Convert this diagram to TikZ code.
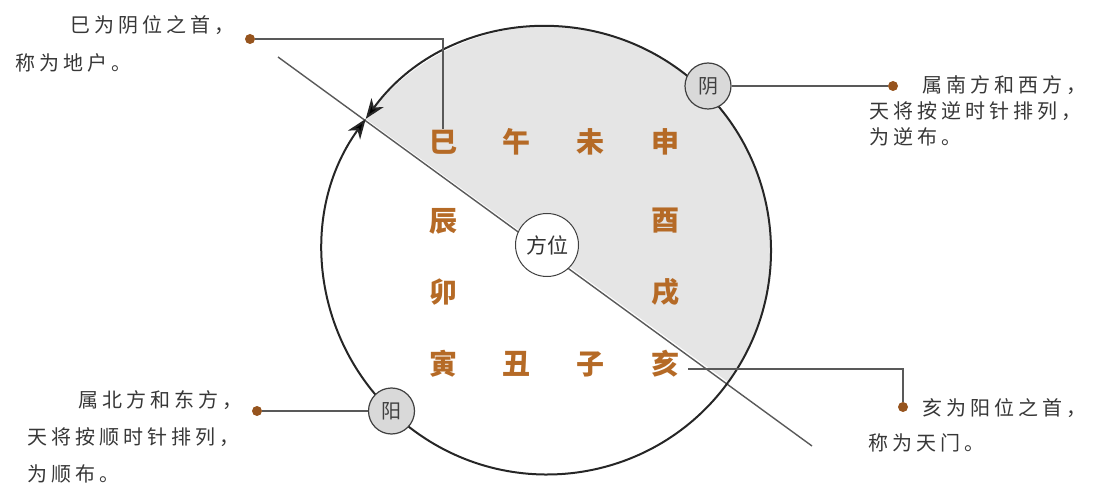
\documentclass[tikz,border=0pt]{standalone}
\usepackage{fontspec}
\usepackage{xcolor}
\usepackage{tikz}
\usetikzlibrary{arrows.meta,positioning,calc}
\newfontfamily\cjk{Noto Sans CJK SC}
\newfontfamily\cjknote[LetterSpace=20]{Noto Sans CJK SC}
\definecolor{branchbrown}{RGB}{181,106,38}
\definecolor{beadbrown}{RGB}{150,84,30}
\definecolor{notegray}{RGB}{55,55,55}
\tikzset{branch/.style={font=\cjk\bfseries\fontsize{28}{28}\selectfont,text=branchbrown,inner sep=1pt}}
\tikzset{yinyang/.style={circle,draw=black!75,fill=gray!30,line width=1.2pt,minimum size=46pt,inner sep=0pt,font=\cjk\fontsize{20}{20}\selectfont,text=black!75}}
\tikzset{bead/.style={circle,fill=beadbrown,inner sep=0pt,minimum size=10pt}}
\tikzset{link/.style={draw=black!65,line width=1.4pt}}
\tikzset{rim/.style={line width=2pt,black!85,-{Stealth[length=20pt,width=15pt,inset=6pt,fill=black]}}}
\tikzset{note/.style={align=left,inner sep=0pt,anchor=north west,text=notegray,font=\cjknote\fontsize{20}{#1}\selectfont}}

\begin{document}
\begin{tikzpicture}[x=1pt, y=1pt]
    \useasboundingbox (0,0) rectangle (1093,496);
    \coordinate (O) at (547,245.5);
    \coordinate (NW) at (278,439);
    \coordinate (SE) at (812,50);

    % shaded half of the circle
    \fill[gray!20] ($(O)+(-36:224)$) arc[start angle=-36, end angle=144, radius=224] -- cycle;
    \draw[line width=1.4pt,black!65] (NW) -- (SE);

    % the circle, both halves running to the door
    \draw[rim] ($(O)+(-36:224)$) arc[start angle=-36, end angle=144, radius=224];
    \draw[rim] ($(O)+(-36:224)$) arc[start angle=-36, end angle=-216, radius=224];

    \node[branch] (si) at (443,354) {巳};
    \node[branch] (wu) at (516,354) {午};
    \node[branch] (wei) at (590,354) {未};
    \node[branch] (shen) at (665,354) {申};
    \node[branch] (chen) at (443,275) {辰};
    \node[branch] (you) at (665,275) {酉};
    \node[branch] (mao) at (443,204) {卯};
    \node[branch] (xu) at (665,204) {戌};
    \node[branch] (yin3) at (443,132) {寅};
    \node[branch] (chou) at (516,132) {丑};
    \node[branch] (zi) at (590,132) {子};
    \node[branch] (hai) at (665,132) {亥};

    \node[circle,draw=black!75,fill=white,line width=1pt,minimum size=63pt,inner sep=0pt,font=\cjk\fontsize{21}{21}\selectfont,text=black!80] (fangwei) at (547,251) {方位};
    \node[yinyang] (yin) at (708,410) {阴};
    \node[yinyang] (yang) at (391.5,85) {阳};

    \node[bead] (btl) at (250,457) {};
    \node[bead] (btr) at (893,410) {};
    \node[bead] (bbl) at (257,85) {};
    \node[bead] (bbr) at (903,89) {};

    \path[link] (btl) -| (si.north);
    \path[link] (yin) -- (btr);
    \path[link] (bbl) -- (yang);
    \path[link] ([shift={(8pt,-5pt)}]hai.east) -| (bbr);

    \node[note=38] (ntl) at (15,481) {\hspace*{55pt}巳为阴位之首，\\称为地户。};
    \node[note=26] (ntr) at (869,421) {\hspace*{53pt}属南方和西方，\\天将按逆时针排列，\\为逆布。};
    \node[note=37] (nbl) at (27,106) {\hspace*{51pt}属北方和东方，\\天将按顺时针排列，\\为顺布。};
    \node[note=35] (nbr) at (868,98) {\hspace*{54pt}亥为阳位之首，\\称为天门。};
\end{tikzpicture}
\end{document}
